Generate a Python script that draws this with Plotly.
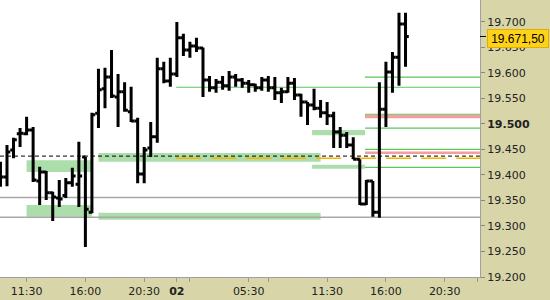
import plotly.graph_objects as go

# ---- data (30-minute bars, bar index on x) ----
bar_index = list(range(-1, 62))
opens = [19410, 19396, 19449, 19481, 19481, 19488, 19388, 19406, 19365, 19355,
         19360, 19385, 19382, 19435, 19327, 19521, 19569, 19592, 19553, 19563,
         19524, 19506, 19402, 19453, 19475, 19608, 19584, 19598, 19669, 19645,
         19653, 19649, 19586, 19571, 19582, 19575, 19592, 19586, 19580, 19577,
         19571, 19586, 19571, 19561, 19563, 19580, 19557, 19543, 19537, 19531,
         19522, 19516, 19484, 19478, 19459, 19431, 19343, 19388, 19327, 19529,
         19602, 19631, 19696]
highs = [19426, 19459, 19473, 19492, 19514, 19494, 19416, 19408, 19367, 19390,
         19394, 19414, 19465, 19435, 19522, 19608, 19610, 19645, 19598, 19582,
         19573, 19512, 19455, 19504, 19630, 19622, 19630, 19700, 19677, 19661,
         19669, 19650, 19594, 19588, 19594, 19604, 19598, 19590, 19586, 19579,
         19592, 19594, 19592, 19571, 19592, 19590, 19559, 19543, 19569, 19547,
         19543, 19524, 19494, 19484, 19474, 19431, 19390, 19388, 19582, 19622,
         19641, 19718, 19718]
lows = [19377, 19378, 19433, 19455, 19478, 19386, 19341, 19351, 19310, 19337,
        19355, 19377, 19337, 19259, 19325, 19492, 19531, 19551, 19494, 19524,
        19504, 19384, 19384, 19435, 19463, 19580, 19573, 19592, 19633, 19630,
        19641, 19553, 19563, 19561, 19567, 19565, 19573, 19571, 19561, 19563,
        19565, 19563, 19547, 19541, 19561, 19547, 19514, 19498, 19527, 19512,
        19498, 19453, 19453, 19453, 19431, 19341, 19341, 19318, 19316, 19494,
        19561, 19575, 19612]
closes = [19396, 19445, 19469, 19482, 19488, 19390, 19406, 19365, 19357, 19353,
          19385, 19398, 19398, 19333, 19518, 19567, 19592, 19555, 19563, 19527,
          19506, 19402, 19449, 19475, 19608, 19584, 19598, 19669, 19645, 19653,
          19649, 19586, 19571, 19582, 19575, 19592, 19586, 19580, 19577, 19571,
          19586, 19571, 19561, 19563, 19580, 19557, 19543, 19537, 19531, 19522,
          19516, 19484, 19478, 19459, 19431, 19343, 19388, 19327, 19529, 19602,
          19631, 19696, 19671.5]

time_tick_index = [3, 12, 21, 26, 28, 37, 40, 49, 58, 67, 72]
time_tick_text = ["11:30", "16:00", "20:30", "<b>02</b>", "", "05:30", "", "11:30", "16:00", "20:30", ""]

price_ticks = [19200, 19250, 19300, 19350, 19400, 19450, 19500, 19550, 19600, 19650, 19700]
price_tick_text = ["19.200", "19.250", "19.300", "19.350", "19.400", "19.450",
                   "<b>19.500</b>", "19.550", "19.600", "19.650", "19.700"]

last_price = 19671.5
last_price_text = "19.671,50"

# zones (start bar, end bar, low, high)
zone_start = [3, 3, 14, 14, 46.7, 46.7]
zone_end = [13, 13, 48, 48, 54.8, 54.8]
zone_low = [19406, 19318, 19426, 19312, 19478, 19412]
zone_high = [19429, 19341, 19443, 19326, 19488, 19420]

# levels
dashed_level = 19437
gray_levels = [19356, 19317]
orange_level = 19433
orange_start = 25.9
green_level_day = 19572
recent_start = 54.8
green_levels_recent = [19592, 19519, 19492, 19450, 19415]
pink_low = [19511, 19441]
pink_high = [19518, 19446]

X_MIN, X_MAX = -1.07, 72.4
Y_MIN, Y_MAX = 19200, 19743

BEIGE = "#D8D6A9"
ZONE_GREEN = "rgba(150,214,150,0.8)"
LINE_GREEN = "#5CC65C"

fig = go.Figure()
fig.add_trace(go.Ohlc(
    x=bar_index, open=opens, high=highs, low=lows, close=closes,
    increasing=dict(line=dict(color="black", width=3)),
    decreasing=dict(line=dict(color="black", width=3)),
    tickwidth=0.5, hoverinfo="skip", showlegend=False,
))

shapes = []
for xs, xe, lo, hi in zip(zone_start, zone_end, zone_low, zone_high):
    shapes.append(dict(type="rect", xref="x", yref="y", x0=xs, x1=xe, y0=lo, y1=hi,
                       fillcolor=ZONE_GREEN, line=dict(width=0), layer="below"))
for lo, hi in zip(pink_low, pink_high):
    shapes.append(dict(type="rect", xref="x", yref="y", x0=recent_start, x1=X_MAX, y0=lo, y1=hi,
                       fillcolor="#F79C9C", line=dict(width=0), layer="below"))
for lv in gray_levels:
    shapes.append(dict(type="line", xref="x", yref="y", x0=X_MIN, x1=X_MAX, y0=lv, y1=lv,
                       line=dict(color="#A8A8A8", width=1.5), layer="below"))
shapes.append(dict(type="line", xref="x", yref="y", x0=X_MIN, x1=X_MAX, y0=dashed_level, y1=dashed_level,
                   line=dict(color="black", width=1, dash="4px,3px"), layer="below"))
shapes.append(dict(type="line", xref="x", yref="y", x0=orange_start, x1=X_MAX, y0=orange_level, y1=orange_level,
                   line=dict(color="#F5B400", width=1.5, dash="25px,10px"), layer="below"))
shapes.append(dict(type="line", xref="x", yref="y", x0=orange_start, x1=X_MAX, y0=green_level_day, y1=green_level_day,
                   line=dict(color=LINE_GREEN, width=1.2), layer="below"))
for lv in green_levels_recent:
    shapes.append(dict(type="line", xref="x", yref="y", x0=recent_start, x1=X_MAX, y0=lv, y1=lv,
                       line=dict(color=LINE_GREEN, width=1.2), layer="below"))
# small tick for last price on the axis
shapes.append(dict(type="line", xref="paper", yref="y", x0=480/550, x1=486/550, y0=last_price, y1=last_price,
                   line=dict(color="black", width=1)))

fig.update_layout(
    width=550, height=300, autosize=False,
    margin=dict(l=0, r=0, t=0, b=0, pad=0),
    paper_bgcolor=BEIGE, plot_bgcolor="white",
    font=dict(family="DejaVu Sans", size=11, color="#222"),
    showlegend=False, hovermode=False,
    shapes=shapes,
    xaxis=dict(domain=[0, 480/550], range=[X_MIN, X_MAX], automargin=False,
               showgrid=False, zeroline=False, rangeslider=dict(visible=False),
               tickmode="array", tickvals=time_tick_index, ticktext=time_tick_text,
               ticks="outside", ticklen=4, tickcolor="#999", showline=True, linecolor="#A0A0A0",
               linewidth=1, fixedrange=True),
    yaxis=dict(domain=[23/300, 1], range=[Y_MIN, Y_MAX], automargin=False, side="right", anchor="x",
               showgrid=False, zeroline=False,
               tickmode="array", tickvals=price_ticks, ticktext=price_tick_text,
               ticks="outside", ticklen=4, tickcolor="#888", showline=True, linecolor="#A0A0A0",
               linewidth=1, fixedrange=True),
    annotations=[dict(xref="paper", yref="y", x=487/550, y=last_price, xanchor="left", yanchor="middle",
                      yshift=-2, text=last_price_text, showarrow=False,
                      font=dict(family="Liberation Sans", size=12, color="black"),
                      bgcolor="#FFD21A", bordercolor="#E0B000", borderwidth=1, borderpad=1,
                      width=58, height=15)],
)

fig.write_html("out.html")
